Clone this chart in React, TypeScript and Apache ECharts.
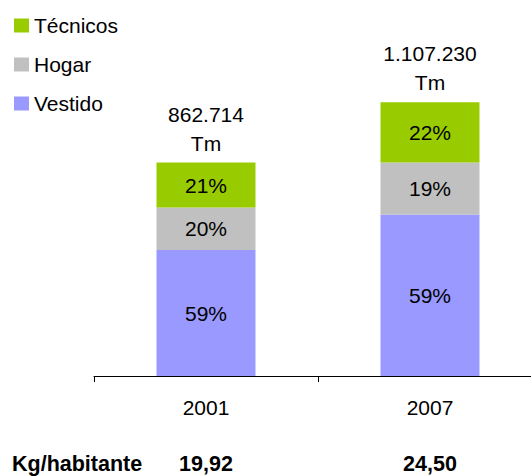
import React, { useEffect, useRef } from "react";
import * as echarts from "echarts";

const categories = ["2001", "2007"];
const totalsTm = [862714, 1107230];
const totalLabels = ["862.714", "1.107.230"];
const kgPerCapita = ["19,92", "24,50"];
const vestidoPct = [59, 59];
const hogarPct = [20, 19];
const tecnicosPct = [21, 22];
const seriesNames = ["Vestido", "Hogar", "Técnicos"];
const legendOrder = ["Técnicos", "Hogar", "Vestido"];

const FONT = "'Liberation Sans', Arial, sans-serif";
const FS = 21;
const FSB = 21.5;

export default function App() {
  const ref = useRef<HTMLDivElement>(null);

  useEffect(() => {
    document.body.style.margin = "0";
    if (!ref.current) return;
    const chart = echarts.init(ref.current, undefined, { renderer: "svg" });

    const pctSets = [vestidoPct, hogarPct, tecnicosPct];
    const colors = ["#9999FF", "#C0C0C0", "#99CC00"];

    const stackSeries = seriesNames.map((name, si) => ({
      name,
      type: "bar",
      stack: "total",
      barWidth: 99,
      itemStyle: { color: colors[si] },
      data: totalsTm.map((t, i) => (t * pctSets[si][i]) / 100),
      label: {
        show: true,
        position: "inside",
        color: "#000",
        fontFamily: FONT,
        fontSize: FS,
        formatter: (p: any) => pctSets[si][p.dataIndex] + "%",
      },
    }));

    const totalSeries = {
      name: "Total",
      type: "bar",
      stack: "total",
      barWidth: 99,
      itemStyle: { color: "transparent" },
      data: totalsTm.map(() => 0),
      label: {
        show: true,
        position: "top",
        distance: 5,
        color: "#000",
        fontFamily: FONT,
        fontSize: FS,
        lineHeight: 29,
        formatter: (p: any) => totalLabels[p.dataIndex] + "\nTm",
      },
    };

    chart.setOption({
      animation: false,
      textStyle: { fontFamily: FONT },
      legend: {
        data: legendOrder,
        orient: "vertical",
        left: 14,
        top: 15,
        padding: 0,
        icon: "rect",
        itemWidth: 15,
        itemHeight: 14,
        itemGap: 18,
        itemTextGap: 6,
        selectedMode: false,
        textStyle: { color: "#000", fontSize: FS, fontFamily: FONT, lineHeight: 20 },
      },
      grid: { left: 94, width: 448, top: 5, height: 371 },
      xAxis: [
        {
          type: "category",
          data: categories,
          position: "bottom",
          axisLine: { show: true, lineStyle: { color: "#000", width: 1 } },
          axisTick: { show: true, length: 6, lineStyle: { color: "#000" } },
          axisLabel: { color: "#000", fontSize: FS, fontFamily: FONT, margin: 21 },
        },
        {
          type: "category",
          data: kgPerCapita,
          position: "bottom",
          gridIndex: 0,
          axisLine: { show: false },
          axisTick: { show: false },
          axisLabel: {
            color: "#000",
            fontSize: FSB,
            fontWeight: "bold",
            fontFamily: FONT,
            margin: 77,
          },
        },
      ],
      yAxis: {
        type: "value",
        min: 0,
        max: 1500000,
        show: false,
        splitLine: { show: false },
      },
      graphic: [
        {
          type: "text",
          left: 12,
          top: 453,
          style: {
            text: "Kg/habitante",
            fill: "#000",
            font: `bold ${FSB}px ${FONT}`,
          },
        },
      ],
      series: [...stackSeries, totalSeries],
    });

    return () => chart.dispose();
  }, []);

  return (
    <div style={{ width: 531, height: 476, overflow: "hidden", position: "relative" }}>
      <div ref={ref} style={{ width: 560, height: 476 }} />
    </div>
  );
}
